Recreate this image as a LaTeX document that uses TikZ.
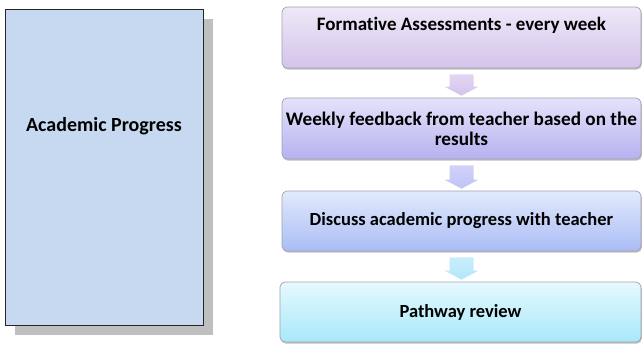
\documentclass[tikz,border=0pt]{standalone}
\usepackage{fontspec}
\setmainfont{Carlito}[Ligatures=NoCommon]
\usetikzlibrary{shadows,calc}
\definecolor{boxline}{RGB}{160,160,178}
\definecolor{leftfill}{RGB}{198,217,241}
\definecolor{cAtop}{RGB}{238,232,248}
\definecolor{cAbot}{RGB}{212,196,234}
\definecolor{cBtop}{RGB}{228,226,250}
\definecolor{cBbot}{RGB}{182,178,240}
\definecolor{cCtop}{RGB}{226,234,252}
\definecolor{cCbot}{RGB}{170,188,245}
\definecolor{cDtop}{RGB}{230,249,254}
\definecolor{cDbot}{RGB}{168,232,250}
\definecolor{aAtop}{RGB}{226,214,244}
\definecolor{aAbot}{RGB}{210,196,236}
\definecolor{aBtop}{RGB}{210,210,248}
\definecolor{aBbot}{RGB}{192,194,244}
\definecolor{aCtop}{RGB}{200,238,252}
\definecolor{aCbot}{RGB}{180,230,250}
\newcommand\flowarrow[4]{%
  \path[top color=#3, bottom color=#4, draw=none]
    let \p1=(#1.south), \p2=(#2.north) in
    (\x1-12pt,\y1-6pt) -- (\x1+12pt,\y1-6pt) -- (\x1+12pt,\y2+11pt)
    -- (\x1+17pt,\y2+11pt) -- (\x1,\y2+2pt) -- (\x1-17pt,\y2+11pt)
    -- (\x1-12pt,\y2+11pt) -- cycle;}
\begin{document}
\begin{tikzpicture}[x=1pt,y=-1pt,
  stagebox/.style={draw=boxline, line width=0.7pt, rounded corners=5pt,
    minimum width=359pt, inner sep=0pt, align=center,
    font=\fontsize{18.5}{20}\selectfont\bfseries,
    drop shadow={shadow xshift=0.8pt, shadow yshift=-1.6pt, fill=black, opacity=0.25}},
  leftbox/.style={draw=black!85, line width=1pt, fill=leftfill,
    minimum width=198pt, minimum height=316pt, inner sep=0pt,
    font=\fontsize{20}{22}\selectfont\bfseries,
    drop shadow={shadow xshift=10pt, shadow yshift=-10pt, fill=black!25, opacity=1}}
]
\useasboundingbox (0,0) rectangle (642,343);

\node[leftbox, text height=14pt, text depth=86pt] (ap) at (104,167) {Academic Progress};

\node[stagebox, minimum height=61pt, top color=cAtop, bottom color=cAbot,
  font=\fontsize{19}{20}\selectfont\bfseries,
  text height=14pt, text depth=28pt] (s1) at (461.5,37.5) {Formative Assessments - every week};
\node[stagebox, minimum height=61pt, top color=cBtop, bottom color=cBbot,
  font=\fontsize{19.2}{20}\selectfont\bfseries] (s2) at (461.5,128.5)
  {Weekly feedback from teacher based on the\\results};
\node[stagebox, minimum height=60pt, top color=cCtop, bottom color=cCbot] (s3) at (461.5,221)
  {Discuss academic progress with teacher};
\node[stagebox, minimum height=60pt, minimum width=361pt, top color=cDtop, bottom color=cDbot] (s4) at (460.5,312)
  {Pathway review};

\flowarrow{s1}{s2}{aAtop}{aAbot}
\flowarrow{s2}{s3}{aBtop}{aBbot}
\flowarrow{s3}{s4}{aCtop}{aCbot}
\end{tikzpicture}
\end{document}
